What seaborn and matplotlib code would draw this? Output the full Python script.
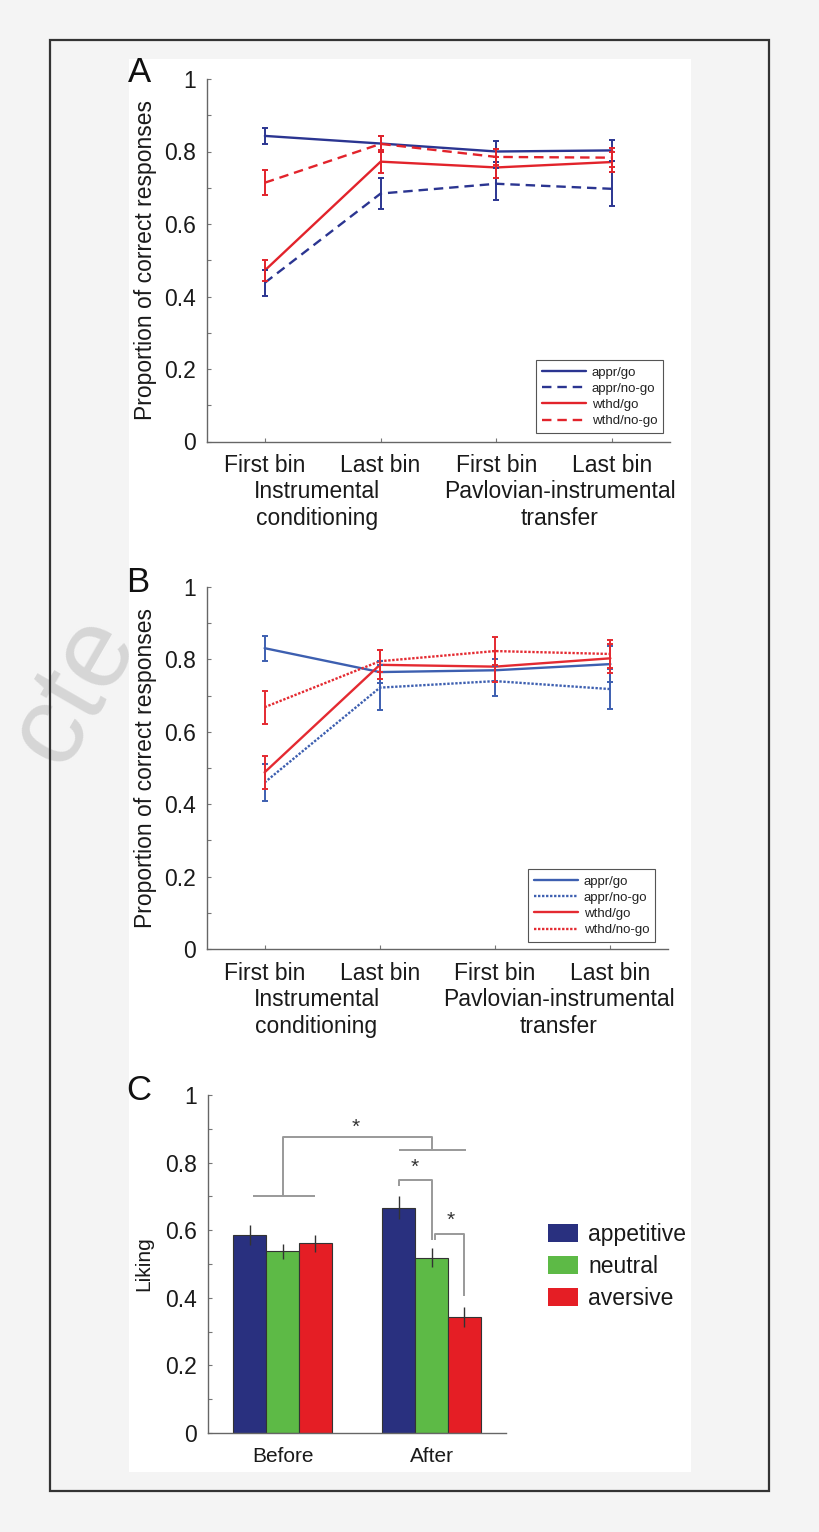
import numpy as np
import pandas as pd
import matplotlib
matplotlib.use("Agg")
import matplotlib.pyplot as plt
import matplotlib.transforms as mtransforms
from matplotlib.patches import Rectangle, Patch
from matplotlib.lines import Line2D
import seaborn as sns

# ---------------------------------------------------------------- data ----
bin_labels = ["First bin", "Last bin", "First bin", "Last bin"]
phase_labels = ["Instrumental\nconditioning", "Pavlovian-instrumental\ntransfer"]
conditions = ["appr/go", "appr/no-go", "wthd/go", "wthd/no-go"]

# panel A: proportion correct (mean, sem)
a_appr_go = [0.843, 0.822, 0.800, 0.803]
a_appr_go_err = [0.021, 0.022, 0.028, 0.030]
a_appr_nogo = [0.438, 0.684, 0.711, 0.697]
a_appr_nogo_err = [0.036, 0.042, 0.044, 0.047]
a_wthd_go = [0.472, 0.772, 0.756, 0.771]
a_wthd_go_err = [0.028, 0.031, 0.030, 0.028]
a_wthd_nogo = [0.714, 0.821, 0.785, 0.783]
a_wthd_nogo_err = [0.035, 0.023, 0.022, 0.026]

# panel B
b_appr_go = [0.831, 0.765, 0.770, 0.787]
b_appr_go_err = [0.035, 0.030, 0.030, 0.050]
b_appr_nogo = [0.460, 0.722, 0.740, 0.718]
b_appr_nogo_err = [0.052, 0.062, 0.042, 0.055]
b_wthd_go = [0.488, 0.785, 0.780, 0.803]
b_wthd_go_err = [0.045, 0.040, 0.042, 0.040]
b_wthd_nogo = [0.668, 0.795, 0.823, 0.815]
b_wthd_nogo_err = [0.046, 0.030, 0.038, 0.038]

# panel C: liking ratings
phases = ["Before", "After"]
stimuli = ["appetitive", "neutral", "aversive"]
liking_before = [0.585, 0.537, 0.561]
liking_before_err = [0.029, 0.022, 0.026]
liking_after = [0.667, 0.519, 0.344]
liking_after_err = [0.034, 0.028, 0.030]

# ---------------------------------------------------------------- style ---
sns.set_style("ticks")
plt.rcParams["font.family"] = ["Liberation Sans", "DejaVu Sans"]
plt.rcParams["axes.facecolor"] = "none"

W, H = 820, 1532
FS = 16.5
SPINE = "#666666"

fig = plt.figure(figsize=(W / 100, H / 100), dpi=100, facecolor="#f4f4f4")


def px_axes(left, top, right, bottom):
    return fig.add_axes([left / W, 1 - bottom / H, (right - left) / W, (bottom - top) / H])


# page frame, white figure area and the watermark behind it
fig.patches.append(Rectangle((50 / W, 1 - 1491 / H), 719 / W, 1451 / H, transform=fig.transFigure,
                             fill=False, ec="#333333", lw=1.6, zorder=-1))
fig.patches.append(Rectangle((129 / W, 1 - 1472 / H), 562 / W, 1413 / H, transform=fig.transFigure,
                             fc="white", ec="none", zorder=-1))
fig.text(74 / W, 1 - 690 / H, "cte", fontsize=82, color="#d6d6d6", rotation=60,
         ha="center", va="center", zorder=-2)


def style_axes(ax):
    sns.despine(ax=ax)
    for s in ("left", "bottom"):
        ax.spines[s].set_color(SPINE)
        ax.spines[s].set_linewidth(1.0)
    ax.set_ylim(0, 1)
    ax.set_yticks(np.arange(0, 1.01, 0.2))
    ax.set_yticklabels(["0", "0.2", "0.4", "0.6", "0.8", "1"])
    ax.set_yticks(np.arange(0.1, 1.0, 0.2), minor=True)
    ax.tick_params(axis="both", which="both", direction="in", length=3, width=0.8,
                   color="#777777", labelsize=FS, labelcolor="#1a1a1a", pad=8)


def line_panel(ax, means, errs, colors, dash, legend_anchor):
    pos = np.arange(1, len(bin_labels) + 1)
    df = pd.DataFrame({
        "pos": np.tile(pos, len(conditions)),
        "value": np.concatenate(means),
        "cond": np.repeat(conditions, len(pos)),
    })
    dashes = {c: ("" if "no-go" not in c else dash) for c in conditions}
    palette = dict(zip(conditions, colors))
    sns.lineplot(data=df, x="pos", y="value", hue="cond", style="cond",
                 hue_order=conditions, style_order=conditions, palette=palette,
                 dashes=dashes, linewidth=1.7, errorbar=None, legend=False, ax=ax)
    for c, m, e in zip(conditions, means, errs):
        ax.errorbar(pos, m, yerr=e, fmt="none", ecolor=palette[c], elinewidth=1.4,
                    capsize=2.5, capthick=1.4)
    style_axes(ax)
    ax.set_xlim(0.5, len(pos) + 0.5)
    ax.set_xticks(pos)
    ax.set_xticklabels(bin_labels)
    ax.tick_params(axis="x", pad=9)
    ax.set_xlabel("")
    ax.set_ylabel("Proportion of correct responses", fontsize=FS, color="#1a1a1a")
    ax.yaxis.set_label_coords(-0.108, 0.5)

    trans = mtransforms.blended_transform_factory(ax.transData, ax.transAxes)
    for x, lab in zip([1.45, 3.55], phase_labels):
        ax.text(x, -0.176, lab, transform=trans, ha="center", va="center",
                fontsize=FS, color="#1a1a1a", linespacing=1.2)

    handles = []
    for c in conditions:
        if dashes[c] == "":
            handles.append(Line2D([], [], color=palette[c], lw=1.7))
        else:
            handles.append(Line2D([], [], color=palette[c], lw=1.7, dashes=dash))
    leg = ax.legend(handles, conditions, loc="lower right", bbox_to_anchor=legend_anchor,
                    borderaxespad=0, fontsize=9.5, labelspacing=0.3, handlelength=3.3,
                    handletextpad=0.45, borderpad=0.45, fancybox=False, framealpha=1)
    leg.get_frame().set_edgecolor("#555555")
    leg.get_frame().set_linewidth(0.8)
    for t in leg.get_texts():
        t.set_color("#222222")


# ------------------------------------------------------------- panel A ---
ax_a = px_axes(207, 79, 670, 441.5)
line_panel(ax_a,
           [a_appr_go, a_appr_nogo, a_wthd_go, a_wthd_nogo],
           [a_appr_go_err, a_appr_nogo_err, a_wthd_go_err, a_wthd_nogo_err],
           ["#2b3591", "#2b3591", "#e2232b", "#e2232b"], (4, 2.5), (0.985, 0.023))

# ------------------------------------------------------------- panel B ---
ax_b = px_axes(207, 587, 668, 949)
line_panel(ax_b,
           [b_appr_go, b_appr_nogo, b_wthd_go, b_wthd_nogo],
           [b_appr_go_err, b_appr_nogo_err, b_wthd_go_err, b_wthd_nogo_err],
           ["#3d5fb0", "#3d5fb0", "#e42a31", "#e42a31"], (1.0, 0.7), (0.972, 0.019))

# ------------------------------------------------------------- panel C ---
ax_c = px_axes(208, 1095, 506, 1433)
bar_colors = ["#29307f", "#5dba46", "#e51e25"]
df_c = pd.DataFrame({
    "phase": np.repeat(phases, len(stimuli)),
    "stimulus": stimuli * len(phases),
    "liking": liking_before + liking_after,
    "err": liking_before_err + liking_after_err,
})
sns.barplot(data=df_c, x="phase", y="liking", hue="stimulus", order=phases, hue_order=stimuli,
            palette=bar_colors, width=0.66, gap=0, edgecolor="#333333", linewidth=0.8,
            errorbar=None, legend=False, saturation=1, ax=ax_c)

centers = {}
for stim, cont in zip(stimuli, ax_c.containers):
    for phase, bar in zip(phases, cont):
        cx = bar.get_x() + bar.get_width() / 2
        centers[(phase, stim)] = cx
        e = df_c.loc[(df_c.phase == phase) & (df_c.stimulus == stim), "err"].iloc[0]
        ax_c.errorbar(cx, bar.get_height(), yerr=e, fmt="none", ecolor="#333333",
                      elinewidth=1.0, capsize=0)

style_axes(ax_c)
ax_c.set_xlim(-0.5, 1.5)
ax_c.tick_params(axis="x", length=0, labelsize=15, pad=10)
ax_c.set_xlabel("")
ax_c.set_ylabel("Liking", fontsize=15, color="#1a1a1a")
ax_c.yaxis.set_label_coords(-0.183, 0.5)

# significance brackets
bk = dict(color="#999999", lw=1.4, solid_capstyle="butt")
b_left, b_right = centers[("Before", "appetitive")], centers[("Before", "aversive")]
a_app, a_neu, a_avr = (centers[("After", s)] for s in stimuli)
ax_c.plot([b_left + 0.02, b_right], [0.70, 0.70], **bk)
ax_c.plot([0, 0, 1, 1], [0.70, 0.877, 0.877, 0.837], **bk)
ax_c.plot([a_app, a_avr + 0.01], [0.837, 0.837], **bk)
ax_c.plot([a_app, a_app, a_neu, a_neu], [0.73, 0.748, 0.748, 0.57], **bk)
ax_c.plot([a_neu + 0.025, a_neu + 0.025, a_avr, a_avr], [0.57, 0.59, 0.59, 0.405], **bk)
for x, y in [(0.49, 0.905), (0.89, 0.785), (1.13, 0.63)]:
    ax_c.text(x, y, "*", ha="center", va="center", fontsize=15, color="#333333")

leg_c = ax_c.legend([Patch(fc=c, ec="none") for c in bar_colors], stimuli,
                    loc="center left", bbox_to_anchor=(1.11, 0.493), frameon=False,
                    fontsize=FS, handlelength=1.3, handleheight=0.8, labelspacing=0.4,
                    handletextpad=0.45, borderaxespad=0)
for t in leg_c.get_texts():
    t.set_color("#1a1a1a")

# panel letters
for lab, (x, y) in zip("ABC", [(140, 72), (138, 583), (139, 1090)]):
    fig.text(x / W, 1 - y / H, lab, fontsize=25, ha="center", va="center", color="#111111")

fig.savefig("out.png", dpi=100, facecolor=fig.get_facecolor())
